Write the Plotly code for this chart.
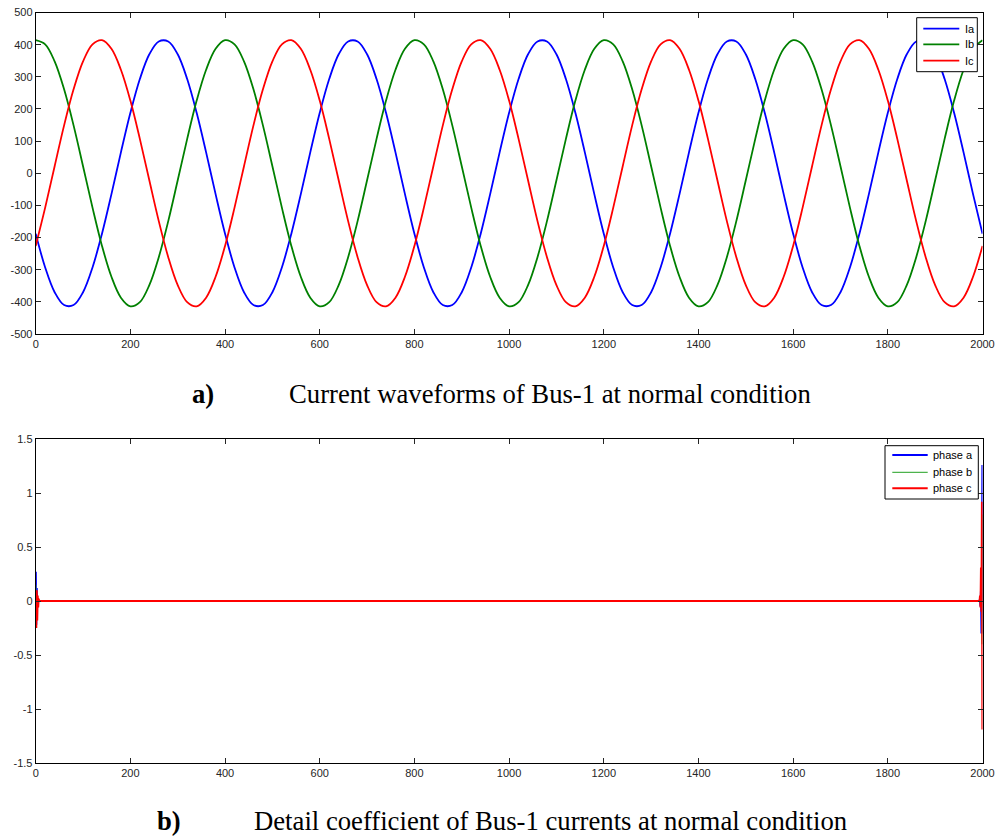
import plotly.graph_objects as go

# ---- data: top panel (sampled every 20 points) ----
samples = list(range(0, 2001, 20))
ia = [-188, -293, -370, -410, -410, -370, -293, -188, -65, 65, 188, 293, 370, 410, 410, 370, 293, 188, 65, -65,
      -188, -293, -370, -410, -410, -370, -293, -188, -65, 65, 188, 293, 370, 410, 410, 370, 293, 188, 65, -65,
      -188, -293, -370, -410, -410, -370, -293, -188, -65, 65, 188, 293, 370, 410, 410, 370, 293, 188, 65, -65,
      -188, -293, -370, -410, -410, -370, -293, -188, -65, 65, 188, 293, 370, 410, 410, 370, 293, 188, 65, -65,
      -188, -293, -370, -410, -410, -370, -293, -188, -65, 65, 188, 293, 370, 410, 410, 370, 293, 188, 65, -65,
      -188]
ib = [414, 401, 348, 261, 149, 22, -107, -226, -322, -387, -414, -401, -348, -261, -149, -22, 107, 226, 322, 387,
      414, 401, 348, 261, 149, 22, -107, -226, -322, -387, -414, -401, -348, -261, -149, -22, 107, 226, 322, 387,
      414, 401, 348, 261, 149, 22, -107, -226, -322, -387, -414, -401, -348, -261, -149, -22, 107, 226, 322, 387,
      414, 401, 348, 261, 149, 22, -107, -226, -322, -387, -414, -401, -348, -261, -149, -22, 107, 226, 322, 387,
      414, 401, 348, 261, 149, 22, -107, -226, -322, -387, -414, -401, -348, -261, -149, -22, 107, 226, 322, 387,
      414]
ic = [-226, -107, 22, 149, 261, 348, 401, 414, 387, 322, 226, 107, -22, -149, -261, -348, -401, -414, -387, -322,
      -226, -107, 22, 149, 261, 348, 401, 414, 387, 322, 226, 107, -22, -149, -261, -348, -401, -414, -387, -322,
      -226, -107, 22, 149, 261, 348, 401, 414, 387, 322, 226, 107, -22, -149, -261, -348, -401, -414, -387, -322,
      -226, -107, 22, 149, 261, 348, 401, 414, 387, 322, 226, 107, -22, -149, -261, -348, -401, -414, -387, -322,
      -226, -107, 22, 149, 261, 348, 401, 414, 387, 322, 226, 107, -22, -149, -261, -348, -401, -414, -387, -322,
      -226]

# ---- data: bottom panel (detail coefficients) ----
xb = [0, 1, 2, 3, 4, 5, 6, 7, 1993, 1994, 1995, 1996, 1997, 1998, 1999, 2000]
da = [0.27, -0.22, 0.12, -0.05, 0.02, 0, 0, 0, 0, 0, 0.02, -0.05, 0.10, -0.30, 0.20, 1.26]
db = [0.15, -0.10, 0.05, 0, 0, 0, 0, 0, 0, 0, 0, 0.03, -0.05, 0.20, -0.40, 0.80]
dc = [0.086, -0.25, 0.10, -0.18, 0.05, -0.06, 0.02, 0, 0, 0, 0.05, -0.06, 0.31, -0.10, 0.92, -1.19]

top_names = ["Ia", "Ib", "Ic"]
bot_names = ["phase a", "phase b", "phase c"]
top_yvals = [500, 400, 300, 200, 100, 0, -100, -200, -300, -400, -500]
top_ytext = ["500", "400", "300", "200", "100", "0", "-100", "-200", "-300", "-400", "-500"]
bot_yvals = [1.5, 1, 0.5, 0, -0.5, -1, -1.5]
bot_ytext = ["1.5", "1", "0.5", "0", "-0.5", "-1", "-1.5"]
xvals = [0, 200, 400, 600, 800, 1000, 1200, 1400, 1600, 1800, 2000]
xtext = ["0", "200", "400", "600", "800", "1000", "1200", "1400", "1600", "1800", "2000"]

W, H = 996, 838


def px(x):
    return x / W


def py(y):
    return 1 - y / H


xdom = [px(35.7), px(982.5)]
ydom_top = [py(334), py(12.5)]
ydom_bot = [py(763), py(439)]

top_styles = [("#0000ff", 1.8), ("#008000", 1.8), ("#ff0000", 1.8)]
bot_styles = [("#0000ff", 2.2), ("#4db34d", 1.2), ("#ff0000", 2.2)]

fig = go.Figure()
for name, ys, (col, w) in zip(top_names, [ia, ib, ic], top_styles):
    fig.add_trace(go.Scatter(x=samples, y=ys, mode="lines", name=name,
                             line=dict(color=col, width=w, shape="spline", smoothing=1.0),
                             xaxis="x", yaxis="y"))
for name, ys, (col, w) in zip(bot_names, [da, db, dc], bot_styles):
    fig.add_trace(go.Scatter(x=xb, y=ys, mode="lines", name=name,
                             line=dict(color=col, width=w),
                             xaxis="x2", yaxis="y2"))

tickfont = dict(family="Liberation Sans, Arial, sans-serif", size=11, color="#262626")
axis_common = dict(showline=True, linecolor="black", linewidth=1, mirror="allticks",
                   ticks="inside", ticklen=5, tickcolor="#262626", showgrid=False,
                   zeroline=False, tickfont=tickfont, automargin=False,
                   ticklabeloverflow="allow")

fig.update_layout(
    width=W, height=H,
    margin=dict(l=0, r=0, t=0, b=0, autoexpand=False),
    paper_bgcolor="white", plot_bgcolor="white",
    showlegend=False,
    xaxis=dict(domain=xdom, anchor="y", range=[0, 2000], tickmode="array",
               tickvals=xvals, ticktext=xtext, **axis_common),
    yaxis=dict(domain=ydom_top, anchor="x", range=[-500, 500], tickmode="array",
               tickvals=top_yvals, ticktext=top_ytext, **axis_common),
    xaxis2=dict(domain=xdom, anchor="y2", range=[0, 2000], tickmode="array",
                tickvals=xvals, ticktext=xtext, **axis_common),
    yaxis2=dict(domain=ydom_bot, anchor="x2", range=[-1.5, 1.5], tickmode="array",
                tickvals=bot_yvals, ticktext=bot_ytext, **axis_common),
)

# ---- legends (box, line samples, labels) ----
legfont = dict(family="Liberation Sans, Arial, sans-serif", size=11, color="black")


def add_legend(box, line_x, rows_y, text_x, names, styles):
    x0, y0, x1, y1 = box
    fig.add_shape(type="rect", xref="paper", yref="paper",
                  x0=px(x0), x1=px(x1), y0=py(y1), y1=py(y0),
                  line=dict(color="black", width=1), fillcolor="white", layer="above")
    for ry, name, (col, w) in zip(rows_y, names, styles):
        fig.add_shape(type="line", xref="paper", yref="paper",
                      x0=px(line_x[0]), x1=px(line_x[1]), y0=py(ry), y1=py(ry),
                      line=dict(color=col, width=min(w, 2.0)), layer="above")
        fig.add_annotation(xref="paper", yref="paper", x=px(text_x), y=py(ry),
                           xanchor="left", yanchor="middle", showarrow=False,
                           text=name, font=legfont)


add_legend((916.7, 17.7, 977.3, 71.7), (923.3, 959.3), [28.7, 44.3, 60.7], 962.5,
           top_names, top_styles)
add_legend((885.0, 445.7, 978.3, 499.0), (892.3, 927.7), [455.0, 472.3, 488.3], 931.0,
           bot_names, bot_styles)

# ---- captions ----
capfont = dict(family="Liberation Serif, Times New Roman, serif", size=26.7, color="black")
anns = [
    dict(text="<b>a)</b>", x=px(190), y=py(394)),
    dict(text="Current waveforms of Bus-1 at normal condition", x=px(287), y=py(394)),
    dict(text="<b>b)</b>", x=px(155), y=py(821)),
    dict(text="Detail coefficient of Bus-1 currents at normal condition", x=px(252), y=py(821)),
]
for a in anns:
    fig.add_annotation(xref="paper", yref="paper", xanchor="left", yanchor="middle",
                       showarrow=False, font=capfont, **a)

fig.write_html("out.html",
               config={"displayModeBar": False},
               post_script="document.body.style.margin='0';document.body.style.overflow='hidden';")
